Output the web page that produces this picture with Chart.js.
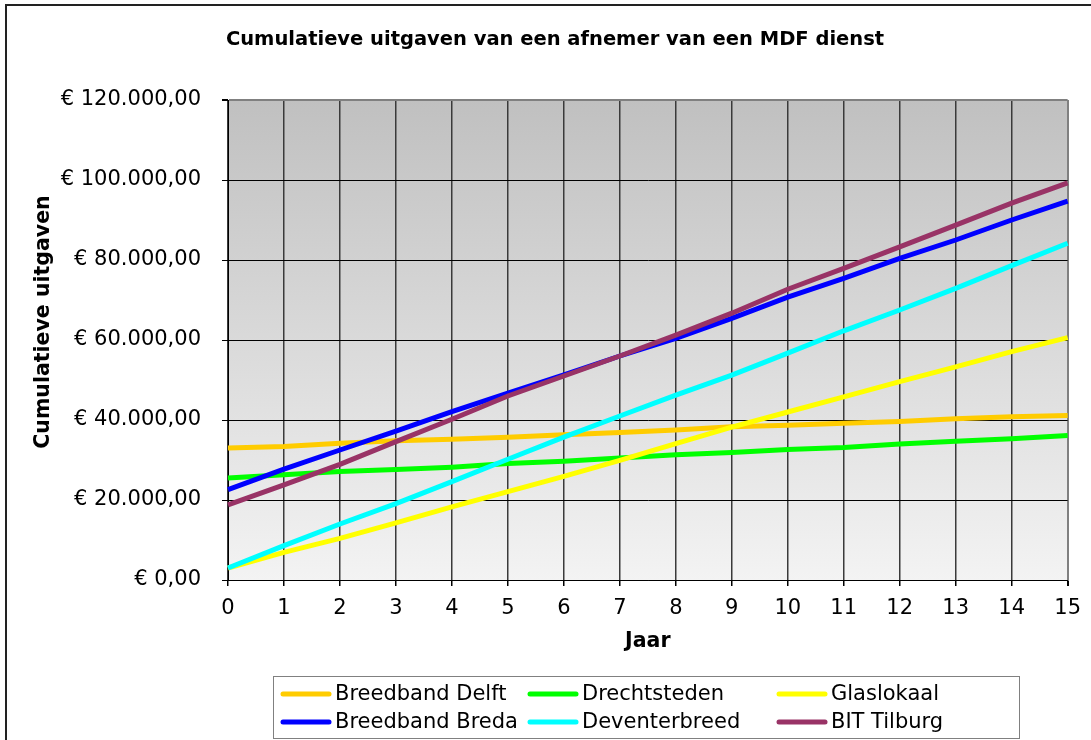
<!DOCTYPE html>
<html>
<head>
<meta charset="utf-8">
<title>Cumulatieve uitgaven</title>
<script src="https://cdn.jsdelivr.net/npm/chart.js@4.4.1/dist/chart.umd.min.js"></script>
<style>
  html,body{margin:0;padding:0;background:#fff;}
  canvas{display:block;}
</style>
</head>
<body>
<canvas id="chart" width="1091" height="740"></canvas>
<script>
const years = ['0','1','2','3','4','5','6','7','8','9','10','11','12','13','14','15'];
const seriesNames = ['Breedband Delft','Drechtsteden','Glaslokaal','Breedband Breda','Deventerbreed','BIT Tilburg'];
const seriesColors = ['#FFCC00','#00FF00','#FFFF00','#0000FF','#00FFFF','#993366'];

const breedbandDelft = [33000,33400,34200,34800,35200,35700,36300,36900,37500,38300,38700,39200,39600,40300,40800,41100];
const drechtsteden   = [25500,26300,27100,27600,28200,29100,29700,30500,31300,31900,32600,33100,34000,34700,35300,36100];
const glaslokaal     = [3000,6900,10400,14300,18300,22100,25900,29900,34100,38200,42000,45800,49600,53300,57100,60600];
const breedbandBreda = [22600,27700,32500,37200,42100,46700,51300,56000,60400,65400,70700,75400,80400,85000,90000,94700];
const deventerbreed  = [3000,8600,14000,19100,24600,30200,35700,41000,46200,51200,56700,62300,67500,72900,78600,84200];
const bitTilburg     = [18800,23800,28900,34600,40200,46000,51000,56000,61200,66700,72700,77900,83300,88700,94200,99300];

const yTicks = [0,20000,40000,60000,80000,100000,120000];

const chartTitle = 'Cumulatieve uitgaven van een afnemer van een MDF dienst';
const yTitle = 'Cumulatieve uitgaven';
const xTitle = 'Jaar';

const allValues = [breedbandDelft,drechtsteden,glaslokaal,breedbandBreda,deventerbreed,bitTilburg];

function euro(v){
  const parts = Math.round(v).toString().replace(/\B(?=(\d{3})+(?!\d))/g,'.');
  return '€ ' + parts + ',00';
}

const FONT = '"DejaVu Sans", Verdana, sans-serif';

const decor = {
  id:'decor',
  beforeDraw(chart){
    const {ctx, chartArea:a} = chart;
    ctx.save();
    ctx.fillStyle = '#fff';
    ctx.fillRect(0,0,chart.width,chart.height);
    const g = ctx.createLinearGradient(0,a.top,0,a.bottom);
    g.addColorStop(0,'#c0c0c0');
    g.addColorStop(1,'#f3f3f3');
    ctx.fillStyle = g;
    ctx.fillRect(a.left,a.top,a.right-a.left,a.bottom-a.top);
    ctx.restore();
  },
  afterDraw(chart){
    const ctx = chart.ctx;
    ctx.save();
    // outer frame
    ctx.strokeStyle = '#222';
    ctx.lineWidth = 2;
    ctx.beginPath();
    ctx.moveTo(6,745); ctx.lineTo(6,5); ctx.lineTo(1095,5);
    ctx.stroke();

    // title
    ctx.fillStyle = '#000';
    ctx.font = 'bold 19.5px ' + FONT;
    ctx.textAlign = 'center';
    ctx.textBaseline = 'middle';
    ctx.fillText(chartTitle, 555, 40);

    // y axis title
    ctx.save();
    ctx.translate(44, 322);
    ctx.rotate(-Math.PI/2);
    ctx.font = 'bold 20.5px ' + FONT;
    ctx.fillText(yTitle, 0, 0);
    ctx.restore();

    // legend
    ctx.strokeStyle = '#808080';
    ctx.lineWidth = 1;
    ctx.fillStyle = '#fff';
    ctx.fillRect(273.5,676.5,746,62);
    ctx.strokeRect(273.5,676.5,746,62);
    const cols = [281,528,777];
    const rows = [694,722];
    ctx.font = '21px ' + FONT;
    ctx.textAlign = 'left';
    chart.data.datasets.forEach((ds,i)=>{
      const cx = cols[i%3], cy = rows[Math.floor(i/3)];
      ctx.strokeStyle = ds.borderColor;
      ctx.lineWidth = 5;
      ctx.lineCap = 'round';
      ctx.beginPath();
      ctx.moveTo(cx+2,cy); ctx.lineTo(cx+48,cy);
      ctx.stroke();
      ctx.fillStyle = '#000';
      ctx.fillText(ds.label, cx+54, cy+1);
    });
    ctx.restore();
  }
};

new Chart(document.getElementById('chart'),{
  type:'line',
  data:{
    labels:years,
    datasets:allValues.map((vals,i)=>({
      label:seriesNames[i],
      data:vals,
      borderColor:seriesColors[i],
      backgroundColor:seriesColors[i],
      borderWidth:5,
      pointRadius:0,
      tension:0,
      fill:false,
      order:5-i
    }))
  },
  options:{
    responsive:false,
    animation:false,
    devicePixelRatio:1,
    layout:{padding:{left:6,top:100,right:23,bottom:80}},
    plugins:{legend:{display:false},title:{display:false},tooltip:{enabled:false}},
    scales:{
      x:{
        type:'category',
        offset:false,
        grid:{
          offset:false,
          color:c=>c.index===years.length-1 ? '#808080' : '#3a3a3a',
          lineWidth:c=>c.index===years.length-1 ? 2 : 1.5,
          tickColor:'#000',
          tickLength:6
        },
        border:{color:'#000',width:1},
        ticks:{color:'#000',font:{family:FONT,size:21},padding:10,maxRotation:0,autoSkip:false},
        title:{display:true,text:xTitle,color:'#000',font:{family:FONT,size:20.5,weight:'bold'},padding:{top:0,bottom:6}},
        afterFit(s){ s.height = 80; }
      },
      y:{
        min:0,max:120000,
        afterBuildTicks(s){ s.ticks = yTicks.map(v=>({value:v})); },
        grid:{
          color:c=>c.tick && c.tick.value===120000 ? '#808080' : '#000',
          lineWidth:c=>c.tick && c.tick.value===120000 ? 2 : 1,
          tickColor:'#000',
          tickLength:6
        },
        border:{color:'#000',width:1},
        ticks:{color:'#000',font:{family:FONT,size:21},padding:21,callback:v=>euro(v)},
        afterFit(s){ s.width = 222; }
      }
    }
  },
  plugins:[decor]
});
</script>
</body>
</html>
